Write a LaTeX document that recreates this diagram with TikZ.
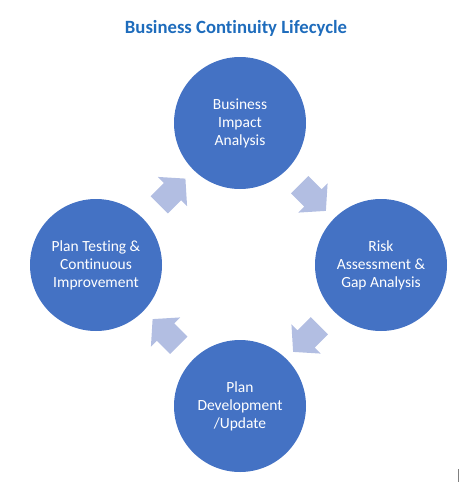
\documentclass[tikz,border=0pt]{standalone}
\usepackage{fontspec}
\setmainfont{Carlito}[Ligatures=CommonOff]
\usetikzlibrary{shapes.arrows}
\definecolor{phaseblue}{RGB}{68,114,196}
\definecolor{flowgrey}{RGB}{178,190,226}
\definecolor{titleblue}{RGB}{30,108,188}

\begin{document}
\begin{tikzpicture}[x=1pt, y=-1pt,
  phase/.style={circle, fill=phaseblue, minimum size=132pt, inner sep=0pt,
    text=white, align=center, font=\fontsize{15.5}{18}\selectfont},
  flow/.style={single arrow, fill=flowgrey, minimum height=37pt, minimum width=41pt,
    single arrow head extend=8.5pt, single arrow tip angle=97,
    inner xsep=0pt, inner ysep=12pt}]
  \useasboundingbox (0,0) rectangle (474,482);
  \node[font=\bfseries\fontsize{18.7}{22}\selectfont, text=titleblue, anchor=base] (title)
    at (236,33) {Business Continuity Lifecycle};
  % the four phases of the cycle
  \node[phase] (bia)  at (240,123) {Business\\Impact\\Analysis};
  \node[phase] (risk) at (381,265) {Risk\\Assessment \&\\Gap Analysis};
  \node[phase] (plan) at (240,406) {Plan\\Development\\/Update};
  \node[phase] (test) at (96,265)  {Plan Testing \&\\Continuous\\Improvement};
  % block arrows, clockwise
  \node[flow, rotate=-45]  (biarisk)  at (309,194)   {};
  \node[flow, rotate=-135] (riskplan) at (310,335)   {};
  \node[flow, rotate=135]  (plantest) at (169.5,336) {};
  \node[flow, rotate=45]   (testbia)  at (168.5,195.5) {};
  % text cursor left in the corner
  \draw[gray, line width=1pt] (458,469) -- (458,482);
\end{tikzpicture}
\end{document}
